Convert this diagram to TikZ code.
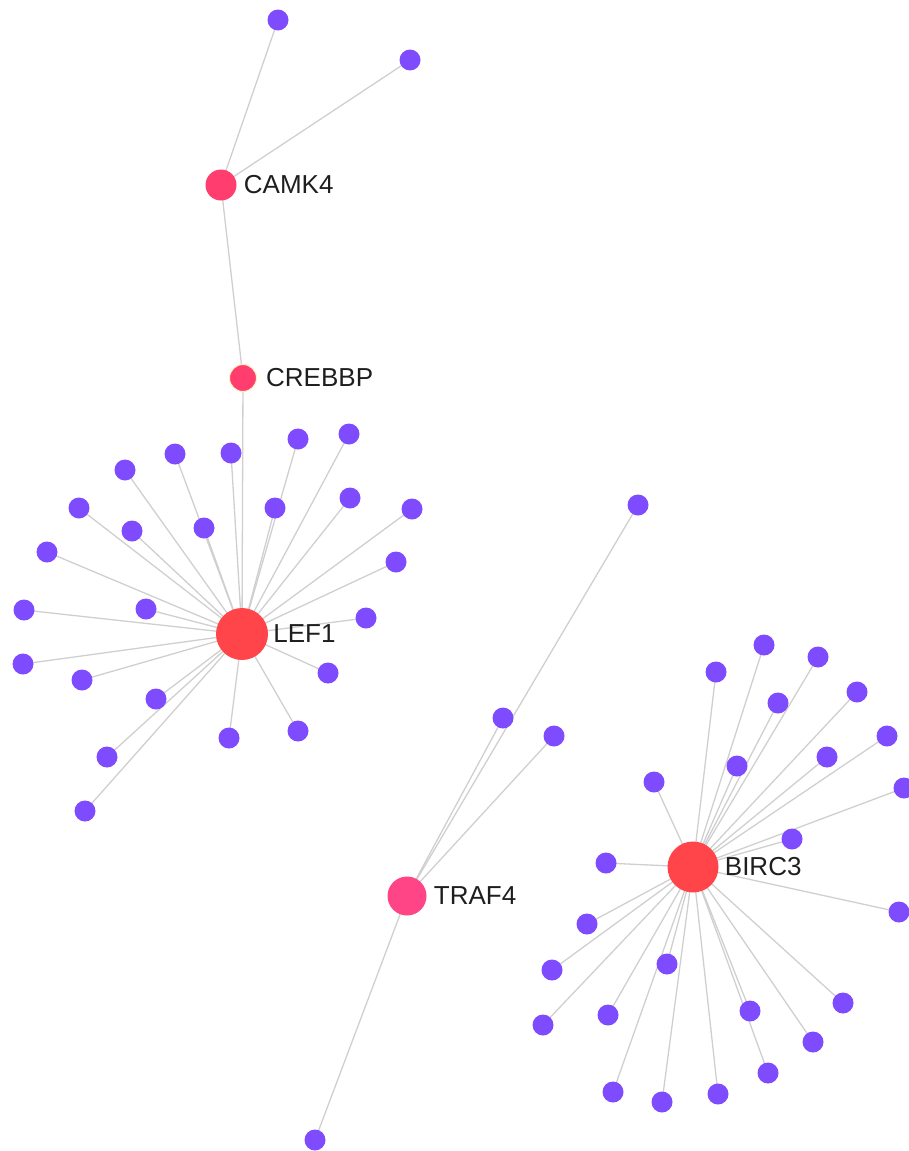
\documentclass[tikz,border=0pt]{standalone}
\usepackage{fontspec}
\setmainfont{Liberation Sans}
\usetikzlibrary{backgrounds}
\definecolor{leaf}{HTML}{7F4BFF}
\definecolor{hubred}{HTML}{FF4549}
\definecolor{hubpink}{HTML}{FF3D6E}
\definecolor{trafpink}{HTML}{FF4586}
\definecolor{edgegray}{HTML}{CFCFCF}
\definecolor{labeltext}{HTML}{1E1E1E}
\definecolor{rimyellow}{HTML}{FFF2C0}
\begin{document}
\begin{tikzpicture}[x=1pt,y=-1pt,
  leafnode/.style={circle,fill=leaf,inner sep=0pt,minimum size=21pt},
  hubnode/.style={circle,inner sep=0pt},
  edge/.style={draw=edgegray,line width=1.3pt},
  lbl/.style={anchor=west,inner sep=0pt,font=\fontsize{26}{30}\selectfont,text=labeltext}]
\useasboundingbox (0,0) rectangle (909,1151);
% hubs
\node[hubnode,fill=hubpink,minimum size=31pt] (camk4) at (221,185) {};
\node[hubnode,fill=hubpink,draw=rimyellow,line width=1pt,minimum size=27pt] (crebbp) at (243,378) {};
\node[hubnode,fill=hubred,minimum size=52pt] (lef1) at (242,634) {};
\node[hubnode,fill=trafpink,minimum size=39pt] (traf4) at (407,896) {};
\node[hubnode,fill=hubred,minimum size=51pt] (birc3) at (693,867) {};
% labels
\node[lbl] (tcamk4) at ([xshift=7pt]camk4.east) {CAMK4};
\node[lbl] (tcrebbp) at ([xshift=9pt]crebbp.east) {CREBBP};
\node[lbl] (tlef1) at ([xshift=5pt]lef1.east) {LEF1};
\node[lbl] (ttraf4) at ([xshift=7pt]traf4.east) {TRAF4};
\node[lbl] (tbirc3) at ([xshift=6pt]birc3.east) {BIRC3};
% CAMK4 leaves
\node[leafnode] (c1) at (278,20) {};
\node[leafnode] (c2) at (410,60) {};
% TRAF4 leaves
\node[leafnode] (t1) at (638,505) {};
\node[leafnode] (t2) at (503,718) {};
\node[leafnode] (t3) at (554,736) {};
\node[leafnode] (t4) at (315,1140) {};
% LEF1 leaves
\foreach \p [count=\i] in {(298,439),(349,434),(231,453),(175,454),(125,470),(79,508),(132,531),(204,528),(275,508),(350,498),(412,509),(396,562),(47,552),(24,610),(146,609),(366,618),(23,664),(82,680),(328,673),(156,699),(298,731),(229,738),(107,757),(85,811)}
  \node[leafnode] (L\i) at \p {};
% BIRC3 leaves
\foreach \p [count=\i] in {(764,645),(818,657),(716,672),(778,703),(857,692),(887,736),(827,757),(737,766),(654,782),(904,788),(792,839),(606,863),(899,912),(587,924),(552,970),(667,964),(843,1003),(608,1015),(543,1025),(750,1011),(813,1042),(768,1073),(613,1092),(662,1102),(718,1094)}
  \node[leafnode] (B\i) at \p {};
% edges
\begin{pgfonlayer}{background}
\draw[edge] (camk4.center) -- (c1.center);
\draw[edge] (camk4.center) -- (c2.center);
\draw[edge] (camk4.center) -- (crebbp.center);
\draw[edge] (crebbp.center) -- (lef1.center);
\foreach \i in {1,...,24} \draw[edge] (lef1.center) -- (L\i.center);
\foreach \i in {1,...,25} \draw[edge] (birc3.center) -- (B\i.center);
\foreach \i in {1,...,4} \draw[edge] (traf4.center) -- (t\i.center);
\end{pgfonlayer}
\end{tikzpicture}
\end{document}
